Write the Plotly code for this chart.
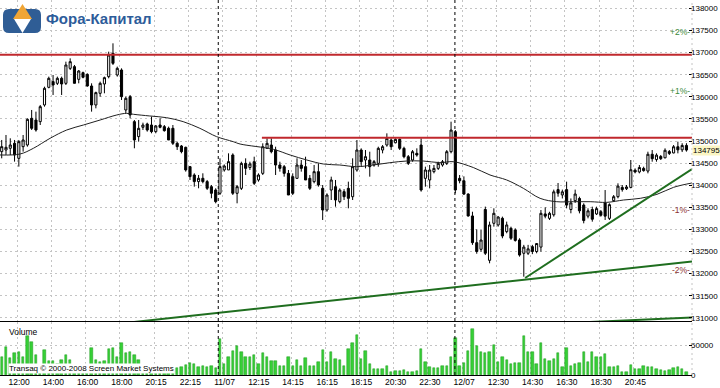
import plotly.graph_objects as go

# ---------------- data ----------------
candle_index = list(range(161))

opens = [134759,134797,134835,134948,134608,134872,134910,135513,135475,135438,
135815,136214,136343,136305,136418,136305,136644,136682,136395,136546,
136508,136244,135815,136079,136290,136456,136983,136493,136606,135702,
136003,135438,135099,135310,135385,135362,135212,135362,135325,135287,
135287,134948,134887,134857,134420,134231,134081,134156,134081,133967,
133892,133817,134345,134345,134684,133817,133929,134494,134400,134532,
134118,134268,134834,134909,134796,134457,134419,134268,134193,134155,
134457,134419,134155,134080,134306,133929,133439,133891,133967,133628,
133854,133929,133740,134344,134796,134570,134570,134457,134494,134796,
134909,135022,134960,135037,134834,134645,134570,134721,134909,134155,
134118,134306,134381,134457,134494,134758,135211,134155,134100,133800,
133304,132700,132550,133450,132300,133138,133100,133251,132950,133025,
132987,132761,132459,132460,132610,132500,132600,133350,133250,133330,
133900,133780,133900,133450,133650,133700,133550,133300,133450,133350,
133400,133600,133250,133650,133740,133950,133920,133950,134340,134300,
134380,134320,134700,134580,134650,134620,134760,134730,134870,134800,
134900]
highs = [135023,135136,135061,135023,135023,135136,135513,135702,135664,135815,
136229,136456,136493,136456,136456,136795,136870,136720,136606,136569,
136531,136305,136116,136343,136456,137021,137210,136682,136644,136003,
136041,135475,135475,135415,135415,135551,135362,135513,135362,135325,
135362,134985,134910,134872,134435,134269,134231,134269,134118,134005,
133930,134608,134470,134721,134721,134005,134532,134608,134532,134645,
134268,134947,135060,135060,134871,134532,134457,134344,134268,134608,
134570,134645,134231,134457,134494,134004,133816,134193,134118,133929,
133910,134080,134608,135022,134834,134796,134758,134570,134871,134909,
135173,135060,135060,135060,134871,134683,134796,134834,135060,134419,
134457,134457,134532,134570,134796,135437,135248,134231,134200,133816,
133400,133000,132987,133515,133176,133477,133300,133289,133176,133062,
133025,132799,132650,132650,132650,132680,133439,133500,133400,133900,
134050,133900,134080,133700,133900,133740,133590,133477,133514,133514,
133439,133891,133590,133778,134042,134004,134004,134570,134381,134457,
134419,134758,134796,134721,134683,134834,134796,134909,134985,134950,
134950]
lows = [134608,134684,134684,134533,134420,134759,134872,135249,135212,135362,
135777,136192,136041,136267,136041,136267,136606,136305,136305,136418,
136229,135664,135739,136003,136079,136418,136720,136456,135928,135626,
135513,134835,134985,135249,135212,135174,135174,135287,135212,135023,
134910,134797,134721,134307,134118,133967,133930,134043,133892,133704,
133590,133779,134307,134345,133779,133590,133891,134231,134344,134004,
134080,134231,134834,134721,134231,134306,134193,133778,133778,134155,
134306,134118,133891,134042,133967,133213,133401,133665,133514,133590,
133665,133477,133665,134306,134419,134381,134193,134419,134419,134721,
134871,134796,134947,134796,134608,134457,134532,134645,133854,133967,
133929,134268,134344,134419,134457,134721,133816,134042,133779,133289,
132650,132450,132497,132420,132233,133062,133062,132799,132912,132761,
132723,132384,131930,132420,132440,132459,132497,133251,133213,133289,
133740,133700,133477,133364,133600,133363,133137,133250,133175,133326,
133288,133213,133213,133627,133703,133854,133891,133929,134268,134268,
134306,134268,134532,134532,134570,134608,134683,134721,134721,134750,
134760]
closes = [134872,134857,134910,134684,134985,135023,135490,135287,135249,135777,
136192,136418,136267,136418,136290,136720,136795,136305,136584,136441,
136244,135815,136094,136305,136433,136946,136757,136644,136003,135966,
135589,135023,135287,135362,135249,135212,135340,135310,135234,135023,
134948,134872,134759,134345,134194,134081,134156,134081,133930,133817,
133628,134420,134435,134533,133817,133967,134494,134381,134480,134042,
134231,134871,134947,134758,134457,134381,134268,133778,133816,134457,
134381,134118,133929,134306,134004,133439,133778,134118,133665,133891,
133740,133703,134419,134796,134532,134645,134419,134532,134834,134871,
135060,134871,135037,134834,134645,134494,134758,134683,133891,134344,
134344,134381,134494,134532,134758,135248,133891,134100,133800,133304,
132700,132500,132760,132460,133100,133364,133280,132850,133100,132800,
132750,132420,132600,132560,132500,132680,133364,133300,133364,133850,
133820,133850,133550,133600,133800,133420,133200,133420,133230,133470,
133320,133300,133560,133740,133980,133900,133960,134350,134300,134400,
134330,134700,134600,134680,134600,134790,134720,134870,134800,134900,
134795]
volumes = [30000,47000,28000,37000,38500,30000,65800,55500,33000,16000,
43000,24400,24400,18700,26000,33000,26000,13000,10200,10200,
15900,45400,26000,21500,24400,44200,45400,30000,54400,37400,
38600,33000,26000,16000,13000,16000,11000,13000,10000,11000,
10000,11000,13000,17000,20400,18700,13000,14700,13000,14700,
11300,61000,18700,30000,41400,48800,39700,30000,30000,33000,
18700,37400,30000,24400,24400,14700,15900,30000,14700,26000,
15900,28300,15900,15900,21500,43100,22700,39700,27200,26000,
14700,44200,54400,68000,27200,41400,18700,10200,10200,10200,
14700,5700,7400,7400,9100,5700,4500,7400,44200,21500,
13000,11300,11300,14700,15900,30000,62400,15900,20400,41400,
77100,48800,39700,37400,39700,51000,22700,30000,26000,18700,
20400,20400,65800,38600,38600,18700,54400,27200,24400,27200,
37400,13000,45400,15900,18700,20400,39700,21500,39700,30000,
30000,35700,13000,14200,15900,5700,4500,17000,10200,10200,
14700,13000,13000,10200,9100,7400,9100,11300,13000,10200,4500]

tick_index = [4,12,20,28,36,44,52,60,68,76,84,92,100,108,116,124,132,140,148]
tick_labels = ["12:00","14:00","16:00","18:00","20:15","22:15","11/07","12:15",
               "14:15","16:15","18:15","20:30","22:30","12/07","12:30","14:30",
               "16:30","18:30","20:45"]

ma_index = [-0.4,4.3,7.4,11.3,15.2,19.1,23.0,26.9,29.2,30.8,34.6,38.5,42.4,46.3,
            50.2,54.1,55.7,63.5,67.4,71.3,75.2,79.0,82.9,86.8,90.7,94.6,98.5,
            102.4,105.5,110.2,114.1,118.0,121.9,125.8,129.7,133.6,137.5,141.4,
            145.3,149.2,153.1,157.0,161.3]
ma_values = [134684,134706,134835,135061,135249,135362,135475,135589,135626,135604,
             135566,135528,135438,135287,135099,134985,134932,134811,134683,134570,
             134479,134457,134419,134457,134509,134547,134547,134510,134532,134400,
             134231,134118,133929,133703,133627,133627,133627,133612,133665,133703,
             133793,133952,134050]

day_breaks = [50.6, 105.9]

red_level_1 = 136950
red_x_1 = [-0.4, 161.3]
red_level_2 = 135075
red_x_2 = [60.8, 161.3]

green_up_x = [122.3, 161.3]
green_up_y = [131900, 134367]
green_low_x = [30.4, 161.3]
green_low_y = [130900, 132274]
green_bot_x = [137.5, 161.3]
green_bot_y = [130905, 131007]

price_ticks = list(range(131000, 138001, 500))
volume_ticks = [0, 50000]
pct_base = 134780
pct_steps = [2, 1, -1, -2]
last_price = 134795

# ---------------- figure ----------------
PW, PH = 692.0, 375.0
def px(x):
    return x / PW
def py(y):
    return 1 - y / PH

FONT = "Liberation Sans, Arial, sans-serif"
GRID = "#c4c4c4"
DASH = "2px,3px"

fig = go.Figure()

fig.add_trace(go.Scatter(x=red_x_1, y=[red_level_1] * 2, mode="lines",
                         line=dict(color="#c0282d", width=2), hoverinfo="skip"))
fig.add_trace(go.Scatter(x=red_x_2, y=[red_level_2] * 2, mode="lines",
                         line=dict(color="#c0282d", width=2), hoverinfo="skip"))
fig.add_trace(go.Scatter(x=ma_index, y=ma_values, mode="lines",
                         line=dict(color="#202020", width=1, shape="spline"),
                         hoverinfo="skip"))
fig.add_trace(go.Candlestick(
    x=candle_index, open=opens, high=highs, low=lows, close=closes,
    increasing=dict(line=dict(color="black", width=1), fillcolor="white"),
    decreasing=dict(line=dict(color="black", width=1), fillcolor="black"),
    whiskerwidth=0, hoverinfo="skip"))
for gx, gy in [(green_up_x, green_up_y), (green_low_x, green_low_y),
               (green_bot_x, green_bot_y)]:
    fig.add_trace(go.Scatter(x=gx, y=gy, mode="lines",
                             line=dict(color="#1f6e1f", width=2), hoverinfo="skip"))

fig.add_trace(go.Bar(x=candle_index, y=volumes, yaxis="y2", width=0.55,
                     marker=dict(color="#36d036", line=dict(color="#1c961c", width=0.5)),
                     hoverinfo="skip"))

fig.update_layout(
    width=720, height=388,
    margin=dict(l=0, r=28, t=0, b=13),
    paper_bgcolor="white", plot_bgcolor="white",
    showlegend=False,
    bargap=0,
    font=dict(family=FONT, size=9, color="black"),
    xaxis=dict(domain=[0, 1], anchor="y2", range=[-0.4, 161.3],
               tickvals=[i - 0.4 for i in tick_index], ticktext=tick_labels,
               tickfont=dict(size=8.5), ticks="", ticklabelshift=2,
               ticklabelstandoff=-1,
               showgrid=True, gridcolor=GRID, griddash=DASH, gridwidth=1,
               showline=True, linecolor="black", linewidth=1, mirror=True,
               zeroline=False, rangeslider=dict(visible=False)),
    yaxis=dict(domain=[53 / PH, 1], anchor="x", side="right",
               range=[130905, 138190], tickvals=price_ticks, tickformat="d",
               ticks="inside", ticklen=3, tickcolor="black",
               tickfont=dict(size=8), ticklabelstandoff=-2,
               showgrid=True, gridcolor=GRID, griddash=DASH, gridwidth=1,
               showline=False, zeroline=False),
    yaxis2=dict(domain=[0, 53 / PH], anchor="x", side="right",
                range=[0, 89600], tickvals=volume_ticks, tickformat="d",
                ticks="inside", ticklen=3, tickcolor="black",
                tickfont=dict(size=8), ticklabelstandoff=-2,
                showgrid=True, gridcolor=GRID, griddash=DASH, gridwidth=1,
                showline=False, zeroline=False),
)

shapes = []
for b in day_breaks:
    shapes.append(dict(type="line", xref="x", yref="paper", x0=b, x1=b, y0=0, y1=1,
                       line=dict(color="black", width=1, dash="dot")))
shapes.append(dict(type="line", xref="paper", yref="paper", x0=1, x1=1, y0=0, y1=1,
                   line=dict(color=GRID, width=1, dash=DASH)))
# logo
shapes.append(dict(type="path", xref="paper", yref="paper",
                   path=(f"M {px(9)},{py(9)} L {px(35)},{py(9)} Q {px(41)},{py(9)} {px(41)},{py(15)} "
                         f"L {px(41)},{py(27)} Q {px(41)},{py(33)} {px(35)},{py(33)} "
                         f"L {px(9)},{py(33)} Q {px(3)},{py(33)} {px(3)},{py(27)} "
                         f"L {px(3)},{py(15)} Q {px(3)},{py(9)} {px(9)},{py(9)} Z"),
                   fillcolor="#2f5d95", line=dict(width=0)))
shapes.append(dict(type="path", xref="paper", yref="paper",
                   path=f"M {px(14)},{py(19)} L {px(31)},{py(19)} L {px(22.5)},{py(33)} Z",
                   fillcolor="white", line=dict(width=0)))
shapes.append(dict(type="path", xref="paper", yref="paper",
                   path=f"M {px(13)},{py(19)} L {px(32)},{py(19)} L {px(22.5)},{py(4)} Z",
                   fillcolor="#f0a535", line=dict(width=0)))
fig.update_layout(shapes=shapes)

ann = []
ann.append(dict(xref="paper", yref="paper", x=px(44), y=py(19), xanchor="left", yanchor="middle",
                text="<b>Фора-Капитал</b>", showarrow=False,
                font=dict(family=FONT, size=15, color="#2d5c9a")))
ann.append(dict(xref="paper", yref="paper", x=px(7), y=py(332), xanchor="left", yanchor="middle",
                text="Volume", showarrow=False, font=dict(size=8.5, color="black")))
ann.append(dict(xref="paper", yref="paper", x=px(8), y=py(368.5), xanchor="left", yanchor="middle",
                text="Transaq © 2000-2008 Screen Market Systems", showarrow=False,
                bgcolor="white", borderpad=0, font=dict(size=8, color="black")))
for s in pct_steps:
    lvl = pct_base * (1 + s / 100.0)
    ann.append(dict(xref="paper", yref="y", x=1, y=lvl, xanchor="right", yanchor="middle",
                    text=(f"+{s}%-" if s > 0 else f"{s}%-"), showarrow=False,
                    font=dict(size=8.5, color=("#3a8a3a" if s > 0 else "#8b3030"))))
ann.append(dict(xref="paper", yref="y", x=1, y=last_price, xanchor="left", yanchor="middle",
                xshift=0, text=str(last_price), showarrow=False, bgcolor="#fbf6c4",
                borderpad=0, font=dict(size=8, color="black")))
fig.update_layout(annotations=ann)

fig.write_html("out.html", config={"displayModeBar": False},
               post_script="document.body.style.margin='0';document.body.style.padding='0';")
